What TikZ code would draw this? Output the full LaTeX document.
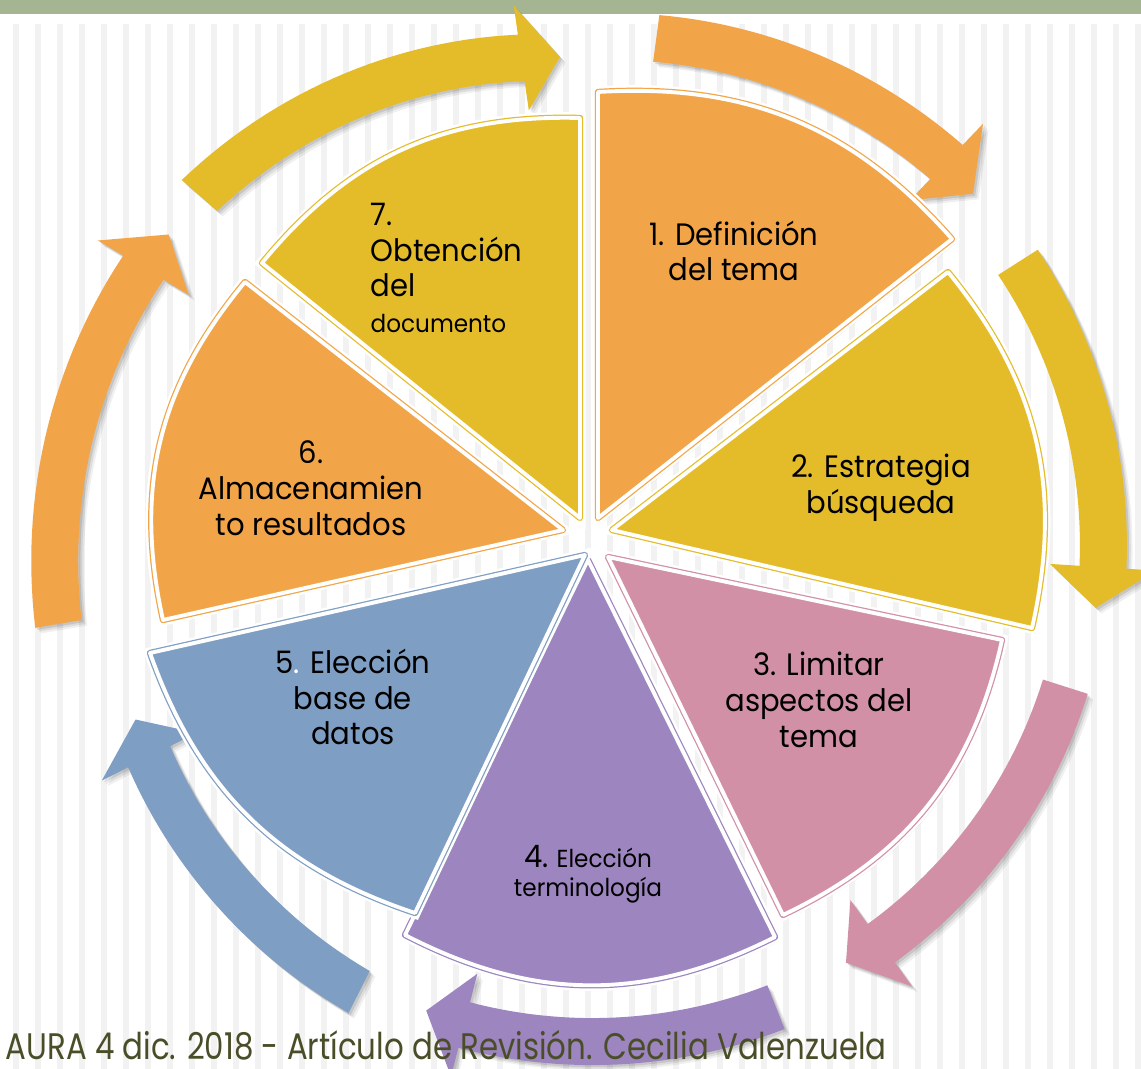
\documentclass[tikz,border=0pt]{standalone}
\usepackage{fontspec}
\setmainfont{Poppins}[FakeStretch=0.94]
\newfontfamily\piedfont[FakeStretch=0.835]{Poppins}
\usetikzlibrary{shadows}

\definecolor{orangeC}{RGB}{242,165,72}
\definecolor{jauneC}{RGB}{228,188,42}
\definecolor{roseC}{RGB}{209,144,166}
\definecolor{violetC}{RGB}{157,133,192}
\definecolor{bleuC}{RGB}{127,158,195}
\definecolor{bandeauC}{RGB}{165,181,146}
\definecolor{rayureC}{RGB}{242,242,242}
\definecolor{oliveC}{RGB}{74,78,40}

% fleche courbe : couleur, angle queue, angle tete, rayon queue, rayon tete
\newcommand{\flechecycle}[5]{%
  \fill[fleche,fill=#1]
    plot[domain=#2:#3,samples=30] (\x:{#4+(#5-(#4))*(\x-(#2))/((#3)-(#2))+\DemiLargeur})
    -- (#3:{#5+\Barbe}) -- ({#3-\Pointe}:{#5-3}) -- (#3:{#5-\Barbe})
    -- plot[domain=#3:#2,samples=30] (\x:{#4+(#5-(#4))*(\x-(#2))/((#3)-(#2))-\DemiLargeur})
    -- cycle;}

\begin{document}
\begin{tikzpicture}[x=0.01cm,y=0.01cm]
	\tikzstyle{rayure}=[fill=rayureC]
	\tikzstyle{fleche}=[drop shadow={shadow xshift=1.6pt,shadow yshift=-1.6pt,opacity=.06,fill=black},
		drop shadow={shadow xshift=1.1pt,shadow yshift=-1.1pt,opacity=.08,fill=black},
		drop shadow={shadow xshift=.6pt,shadow yshift=-.6pt,opacity=.1,fill=black}]
	\tikzset{secteur/.style={fill=#1,draw=#1,line join=round,
			drop shadow={shadow xshift=1.2pt,shadow yshift=-1.2pt,opacity=.08,fill=black},
			drop shadow={shadow xshift=.7pt,shadow yshift=-.7pt,opacity=.15,fill=black},
			preaction={draw=white,line width=3.2pt},
			line width=.35pt,double=white,double distance=1.1pt}}
	\tikzstyle{texte}=[align=center,inner sep=0pt,font=\fontsize{8.8}{10.2}\selectfont]
	
	\def\Petite{\fontsize{7}{8.2}\selectfont}
	\def\DemiLargeur{23.5}
	\def\Barbe{53}
	\def\Pointe{4.6}
	
	% fond
	\useasboundingbox (0,0) rectangle (1141,1069);
	\fill[white] (0,0) rectangle (1141,1069);
	\foreach \i in {0,...,51} \fill[rayure] ({13+22*\i},0) rectangle ++(6,1045);
	\fill[bandeauC] (0,1055) rectangle (1141,1069);
	
	% fleches autour de la roue
	\begin{scope}[shift={(590,534)}]
		\flechecycle{orangeC}{82.4}{46.3}{501}{516}
		\flechecycle{jauneC}{32.5}{-3.6}{507.5}{514}
		\flechecycle{roseC}{-17.7}{-54.5}{499}{501.5}
		\flechecycle{violetC}{-68.5}{-104.4}{507.5}{506}
		\flechecycle{bleuC}{243.2}{206.7}{512}{493.5}
		\flechecycle{orangeC}{189.5}{149.1}{539}{520.5}
		\flechecycle{jauneC}{139}{98.2}{517.5}{482}
	\end{scope}
	
	% secteurs
	\coordinate (S1) at (598,551); \coordinate (S1a) at (598,977); \coordinate (S1b) at (952,830);
	\coordinate (S2) at (612,539); \coordinate (S2a) at (948,797); \coordinate (S2b) at (1032,441);
	\coordinate (S3) at (608,512); \coordinate (S3a) at (1002,429); \coordinate (S3b) at (783,154);
	\coordinate (S4) at (588,509); \coordinate (S4a) at (775,132); \coordinate (S4b) at (405,134);
	\coordinate (S5) at (585,514); \coordinate (S5a) at (415,156); \coordinate (S5b) at (150,416);
	\coordinate (S6) at (563,539); \coordinate (S6a) at (163,449); \coordinate (S6b) at (245,787);
	\coordinate (S7) at (580,551); \coordinate (S7a) at (262,806); \coordinate (S7b) at (580,951);
	
	\draw[secteur=orangeC] (S1) -- (S1a) to[bend left=26] (S1b) -- cycle;
	\draw[secteur=jauneC] (S2) -- (S2a) to[bend left=26] (S2b) -- cycle;
	\draw[secteur=roseC] (S3) -- (S3a) to[bend left=26] (S3b) -- cycle;
	\draw[secteur=violetC] (S4) -- (S4a) to[bend left=27] (S4b) -- cycle;
	\draw[secteur=bleuC] (S5) -- (S5a) to[bend left=26] (S5b) -- cycle;
	\draw[secteur=orangeC] (S6) -- (S6a) to[bend left=26] (S6b) -- cycle;
	\draw[secteur=jauneC] (S7) -- (S7a) to[bend left=26] (S7b) -- cycle;
	
	% textes
	\node[texte] (T1) at (734,818) {1. Definición\\del tema};
	\node[texte] (T2) at (881,581) {2. Estrategia\\búsqueda};
	\node[texte] (T3) at (819,369) {3. Limitar\\aspectos del\\tema};
	\node[texte,font=\Petite] (T4) at (588,195) {{\fontsize{8.8}{10.2}\selectfont 4.} Elección\\terminología};
	\node[texte] (T5) at (353,372) {5{\color{white}.} Elección\\base de\\datos};
	\node[texte] (T6) at (311,581) {6.\\Almacenamien\\to resultados};
	\node[texte,align=left,anchor=west] (T7) at (370,801) {7.\\Obtención\\del\\{\Petite documento}};
	
	\node[anchor=base west,inner sep=0pt,text=oliveC,font=\piedfont\fontsize{10.5}{12}\selectfont] (pied) at (5,9) {AURA 4 dic. 2018 - Artículo de Revisión. Cecilia Valenzuela};
\end{tikzpicture}
\end{document}
